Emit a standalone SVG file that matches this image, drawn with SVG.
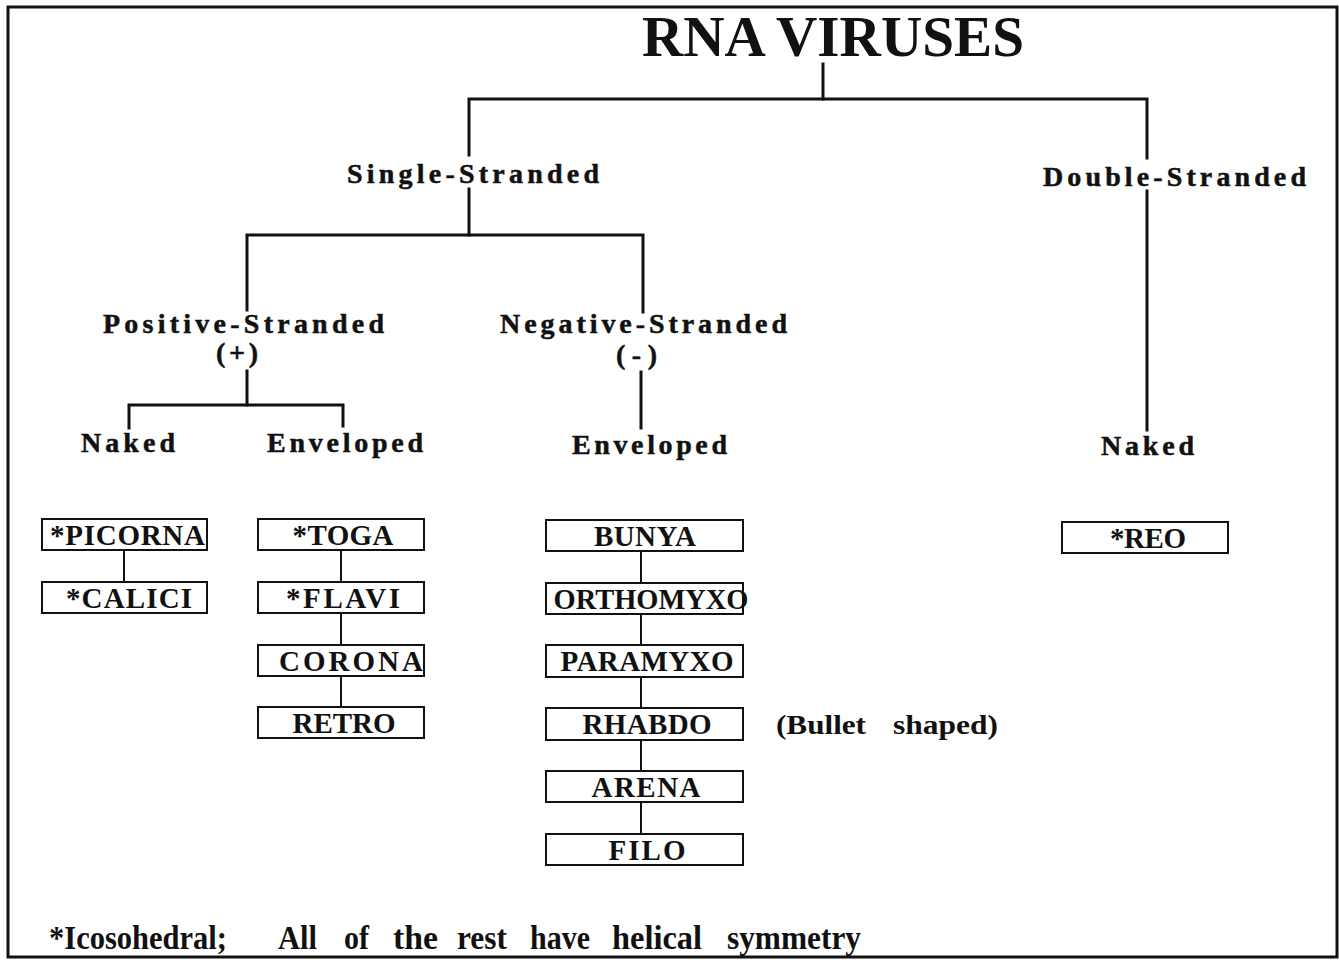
<svg xmlns="http://www.w3.org/2000/svg" width="1339" height="962" viewBox="0 0 1339 962">
<style>
.t{font-family:"Liberation Serif","Times New Roman",serif;font-weight:bold;fill:#111}
.lab{font-size:28px;stroke:#111;stroke-width:0.5}
.box rect{fill:#fff;stroke:#111;stroke-width:2}
.bt{font-size:29px;text-anchor:middle}
.tree{fill:none;stroke:#111;stroke-width:3;stroke-linecap:square}
.thin{fill:none;stroke:#111;stroke-width:2}
.fn{font-size:34px}
</style>
<rect x="0" y="0" width="1339" height="962" fill="#fff"/>
<rect id="frame" x="8" y="7" width="1329" height="950" fill="none" stroke="#111" stroke-width="3"/>

<g id="connectors">
<path class="tree" d="M823,64 V99"/>
<path class="tree" d="M469,155 V99 H1147 V158"/>
<path class="tree" d="M469,189 V235"/>
<path class="tree" d="M247,310 V235 H643 V312"/>
<path class="tree" d="M247,371 V405"/>
<path class="tree" d="M129,428 V405 H343 V426"/>
<path class="tree" d="M641,372 V428"/>
<path class="tree" d="M1147,191 V430"/>
<path class="thin" d="M124,550 V582"/>
<path class="thin" d="M341,550 V582 M341,613 V645 M341,676 V707"/>
<path class="thin" d="M641,551 V583 M641,614 V645 M641,677 V708 M641,740 V771 M641,802 V834"/>
</g>

<g id="title"><text class="t" x="833" y="56" font-size="57" text-anchor="middle" textLength="382" lengthAdjust="spacingAndGlyphs">RNA VIRUSES</text></g>

<g id="single"><text class="t lab" x="347" y="183" textLength="252" lengthAdjust="spacing">Single-Stranded</text></g>
<g id="double"><text class="t lab" x="1043" y="186" textLength="263" lengthAdjust="spacing">Double-Stranded</text></g>
<g id="positive">
<text class="t lab" x="103" y="333" textLength="281" lengthAdjust="spacing">Positive-Stranded</text>
<text class="t lab" x="216" y="362" textLength="42" lengthAdjust="spacing">(+)</text>
</g>
<g id="negative">
<text class="t lab" x="500" y="333" textLength="287" lengthAdjust="spacing">Negative-Stranded</text>
<text class="t lab" x="616" y="364" textLength="41" lengthAdjust="spacing">(-)</text>
</g>
<g id="pos-naked"><text class="t lab" x="81" y="452" textLength="94" lengthAdjust="spacing">Naked</text></g>
<g id="pos-env"><text class="t lab" x="267" y="452" textLength="156" lengthAdjust="spacing">Enveloped</text></g>
<g id="neg-env"><text class="t lab" x="572" y="454" textLength="155" lengthAdjust="spacing">Enveloped</text></g>
<g id="ds-naked"><text class="t lab" x="1101" y="455" textLength="93" lengthAdjust="spacing">Naked</text></g>

<g id="picorna" class="box"><rect x="42" y="519" width="165" height="31"/><text class="t bt" x="127.5" y="545" textLength="155" lengthAdjust="spacing">*PICORNA</text></g>
<g id="calici" class="box"><rect x="42" y="582" width="165" height="31"/><text class="t bt" x="129" y="608" textLength="126" lengthAdjust="spacing">*CALICI</text></g>

<g id="toga" class="box"><rect x="258" y="519" width="166" height="31"/><text class="t bt" x="343" y="545" textLength="101" lengthAdjust="spacing">*TOGA</text></g>
<g id="flavi" class="box"><rect x="258" y="582" width="166" height="31"/><text class="t bt" x="343" y="608" textLength="114" lengthAdjust="spacing">*FLAVI</text></g>
<g id="corona" class="box"><rect x="258" y="645" width="166" height="31"/><text class="t bt" x="351" y="671" textLength="144" lengthAdjust="spacing">CORONA</text></g>
<g id="retro" class="box"><rect x="258" y="707" width="166" height="31"/><text class="t bt" x="344" y="733" textLength="103" lengthAdjust="spacing">RETRO</text></g>

<g id="bunya" class="box"><rect x="546" y="520" width="197" height="31"/><text class="t bt" x="645" y="546" textLength="102" lengthAdjust="spacing">BUNYA</text></g>
<g id="orthomyxo" class="box"><rect x="546" y="583" width="197" height="31"/><text class="t bt" x="651" y="609" textLength="195" lengthAdjust="spacingAndGlyphs">ORTHOMYXO</text></g>
<g id="paramyxo" class="box"><rect x="546" y="645" width="197" height="32"/><text class="t bt" x="647" y="671" textLength="173" lengthAdjust="spacing">PARAMYXO</text></g>
<g id="rhabdo" class="box"><rect x="546" y="708" width="197" height="32"/><text class="t bt" x="647" y="734" textLength="129" lengthAdjust="spacing">RHABDO</text></g>
<g id="arena" class="box"><rect x="546" y="771" width="197" height="31"/><text class="t bt" x="646" y="797" textLength="109" lengthAdjust="spacing">ARENA</text></g>
<g id="filo" class="box"><rect x="546" y="834" width="197" height="31"/><text class="t bt" x="647" y="860" textLength="77" lengthAdjust="spacing">FILO</text></g>

<g id="reo" class="box"><rect x="1062" y="522" width="166" height="31"/><text class="t bt" x="1148" y="548" textLength="76" lengthAdjust="spacing">*REO</text></g>

<g id="bullet-note">
<text class="t" x="776" y="734" font-size="28" textLength="90" lengthAdjust="spacingAndGlyphs">(Bullet</text>
<text class="t" x="893" y="734" font-size="28" textLength="105" lengthAdjust="spacingAndGlyphs">shaped)</text>
</g>

<g id="footnote" class="t fn">
<text x="49" y="949" textLength="178" lengthAdjust="spacingAndGlyphs">*Icosohedral;</text>
<text x="278" y="949" textLength="39" lengthAdjust="spacingAndGlyphs">All</text>
<text x="344" y="949" textLength="25" lengthAdjust="spacingAndGlyphs">of</text>
<text x="393" y="949" textLength="45" lengthAdjust="spacingAndGlyphs">the</text>
<text x="457" y="949" textLength="50" lengthAdjust="spacingAndGlyphs">rest</text>
<text x="530" y="949" textLength="60" lengthAdjust="spacingAndGlyphs">have</text>
<text x="612" y="949" textLength="90" lengthAdjust="spacingAndGlyphs">helical</text>
<text x="727" y="949" textLength="134" lengthAdjust="spacingAndGlyphs">symmetry</text>
</g>
</svg>
